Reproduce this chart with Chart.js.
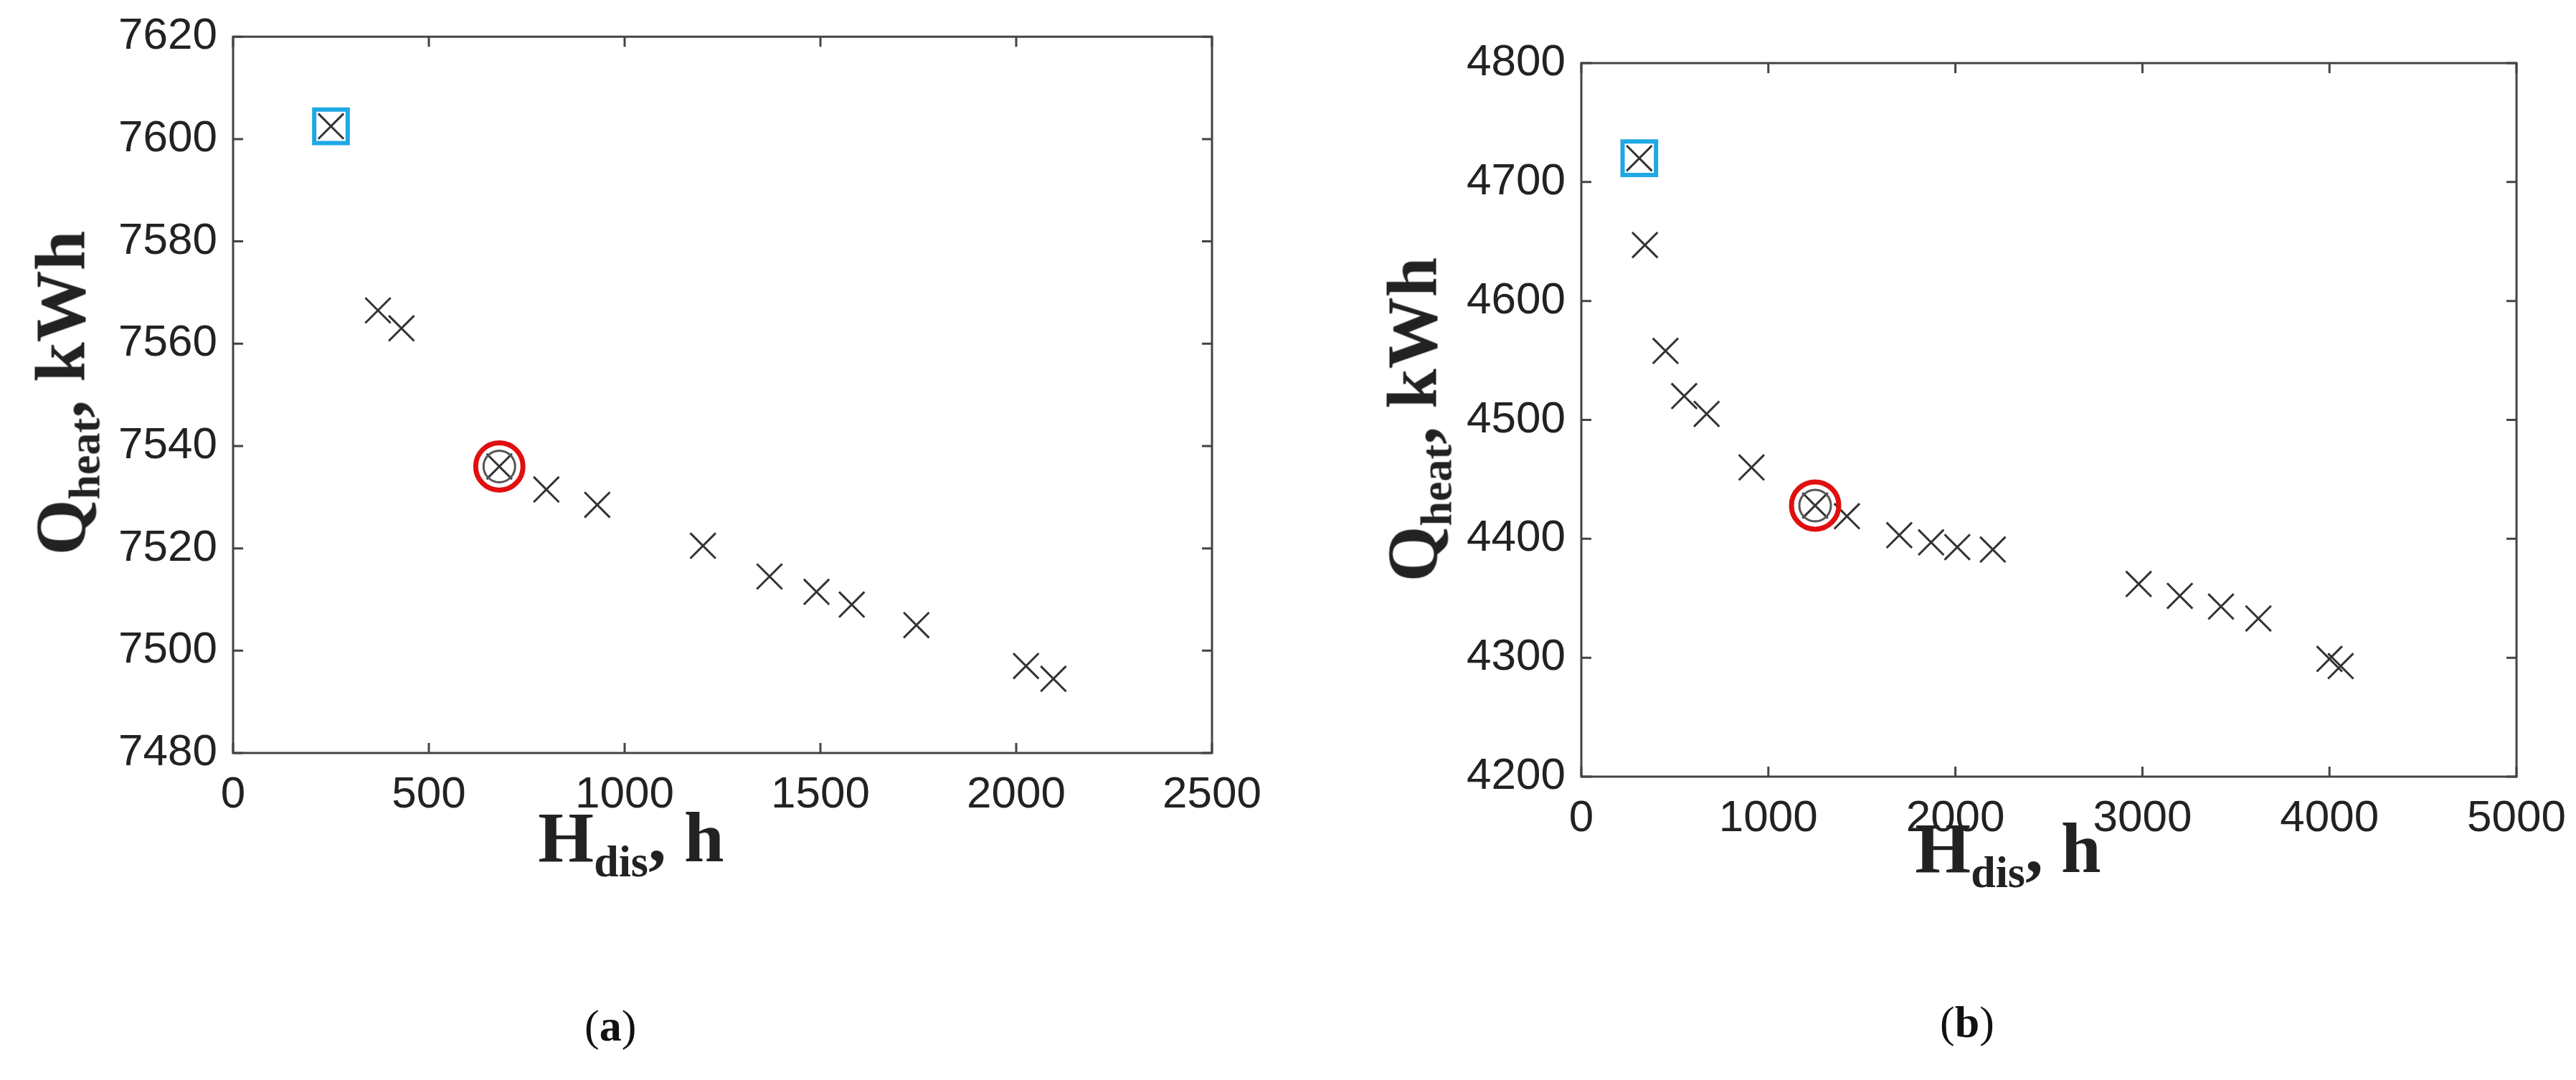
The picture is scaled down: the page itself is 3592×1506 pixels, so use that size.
<!DOCTYPE html>
<html><head><meta charset="utf-8">
<script src="https://cdn.jsdelivr.net/npm/chart.js@4"></script>
<style>
body{margin:0;background:#fff;width:3592px;height:1506px;position:relative;overflow:hidden}
canvas{position:absolute}
.t{position:absolute;font-family:"Liberation Serif",serif;font-weight:bold;color:#222;white-space:nowrap}
.t sub{font-size:0.62em}
.cap{position:absolute;font-family:"Liberation Serif",serif;font-size:62px;color:#111}
</style></head><body>
<div id="wa" style="position:absolute;left:0;top:0;width:1796px;height:1506px"><canvas id="ca"></canvas></div>
<div id="wb" style="position:absolute;left:1796px;top:0;width:1796px;height:1506px"><canvas id="cb"></canvas></div>
<div class="t" style="left:880px;top:1110px;font-size:100px;transform:translateX(-50%)">H<sub>dis</sub>, h</div>
<div class="t" style="left:2800px;top:1125px;font-size:100px;transform:translateX(-50%)">H<sub>dis</sub>, h</div>
<div class="t" style="left:90px;top:548px;font-size:100px;transform:translate(-50%,-50%) rotate(-90deg)">Q<sub>heat</sub>, kWh</div>
<div class="t" style="left:1975px;top:585px;font-size:100px;transform:translate(-50%,-50%) rotate(-90deg)">Q<sub>heat</sub>, kWh</div>
<div class="cap" style="left:815px;top:1395px">(<b>a</b>)</div>
<div class="cap" style="left:2705px;top:1390px">(<b>b</b>)</div>
<script>
const aX=[250,370,430,680,800,930,1200,1370,1490,1580,1745,2025,2095];
const aY=[7602.5,7566.5,7563,7536,7531.5,7528.5,7520.5,7514.5,7511.5,7509,7505,7497,7494.5];
const aBest=0, aSel=3;
const bX=[310,340,450,550,670,910,1250,1420,1700,1870,2010,2200,2980,3200,3420,3620,4000,4060];
const bY=[4720,4647,4558,4520,4505,4460,4428,4419,4403,4397,4393,4391,4362,4352,4343,4333,4299,4293];
const bBest=0, bSel=6;

const boxPlugin={id:'box',afterDraw(c){const a=c.chartArea,x=c.ctx;x.save();x.strokeStyle='#444';x.lineWidth=3;
 x.strokeRect(a.left,a.top,a.right-a.left,a.bottom-a.top);
 const sx=c.scales.x,sy=c.scales.y;
 sx.ticks.forEach(t=>{const p=sx.getPixelForValue(t.value);x.beginPath();x.moveTo(p,a.bottom);x.lineTo(p,a.bottom-14);x.moveTo(p,a.top);x.lineTo(p,a.top+14);x.stroke();});
 sy.ticks.forEach(t=>{const p=sy.getPixelForValue(t.value);x.beginPath();x.moveTo(a.left,p);x.lineTo(a.left+14,p);x.moveTo(a.right,p);x.lineTo(a.right-14,p);x.stroke();});
 x.restore();}};

function make(id,X,Y,best,sel,xmax,xstep,ymin,ymax,ystep,pad,yw,xh){
 const pts=X.map((v,i)=>({x:v,y:Y[i]}));
 const tf={family:'Liberation Sans',size:62};
 new Chart(document.getElementById(id),{type:'scatter',
  data:{datasets:[
   {data:[pts[sel]],pointStyle:'circle',pointRadius:33,borderColor:'#e01010',borderWidth:7,backgroundColor:'rgba(0,0,0,0)'},
   {data:[pts[sel]],pointStyle:'circle',pointRadius:22,borderColor:'#555',borderWidth:3,backgroundColor:'rgba(0,0,0,0)'},
   {data:[pts[best]],pointStyle:'rect',pointRadius:33,borderColor:'#1ea8e4',borderWidth:6,backgroundColor:'rgba(0,0,0,0)'},
   {data:pts,pointStyle:'crossRot',pointRadius:25,borderColor:'#333',borderWidth:3}
  ]},
  options:{responsive:true,maintainAspectRatio:false,animation:false,
   layout:{padding:pad},
   plugins:{legend:{display:false},tooltip:{enabled:false}},
   scales:{
    x:{min:0,max:xmax,ticks:{stepSize:xstep,color:'#222',font:tf,padding:14,maxRotation:0,callback:v=>String(v)},grid:{display:false},border:{display:false},afterFit(s){s.height=xh;}},
    y:{min:ymin,max:ymax,ticks:{stepSize:ystep,color:'#222',font:tf,padding:14,callback:v=>String(v)},grid:{display:false},border:{display:false},afterFit(s){s.width=yw;}}
   }},
  plugins:[boxPlugin]});
}
make('ca',aX,aY,aBest,aSel,2500,500,7480,7620,20,{top:46,right:106,left:0,bottom:0},325,456);
make('cb',bX,bY,bBest,bSel,5000,1000,4200,4800,100,{top:88,right:17,left:0,bottom:0},409,423);
</script></body></html>
